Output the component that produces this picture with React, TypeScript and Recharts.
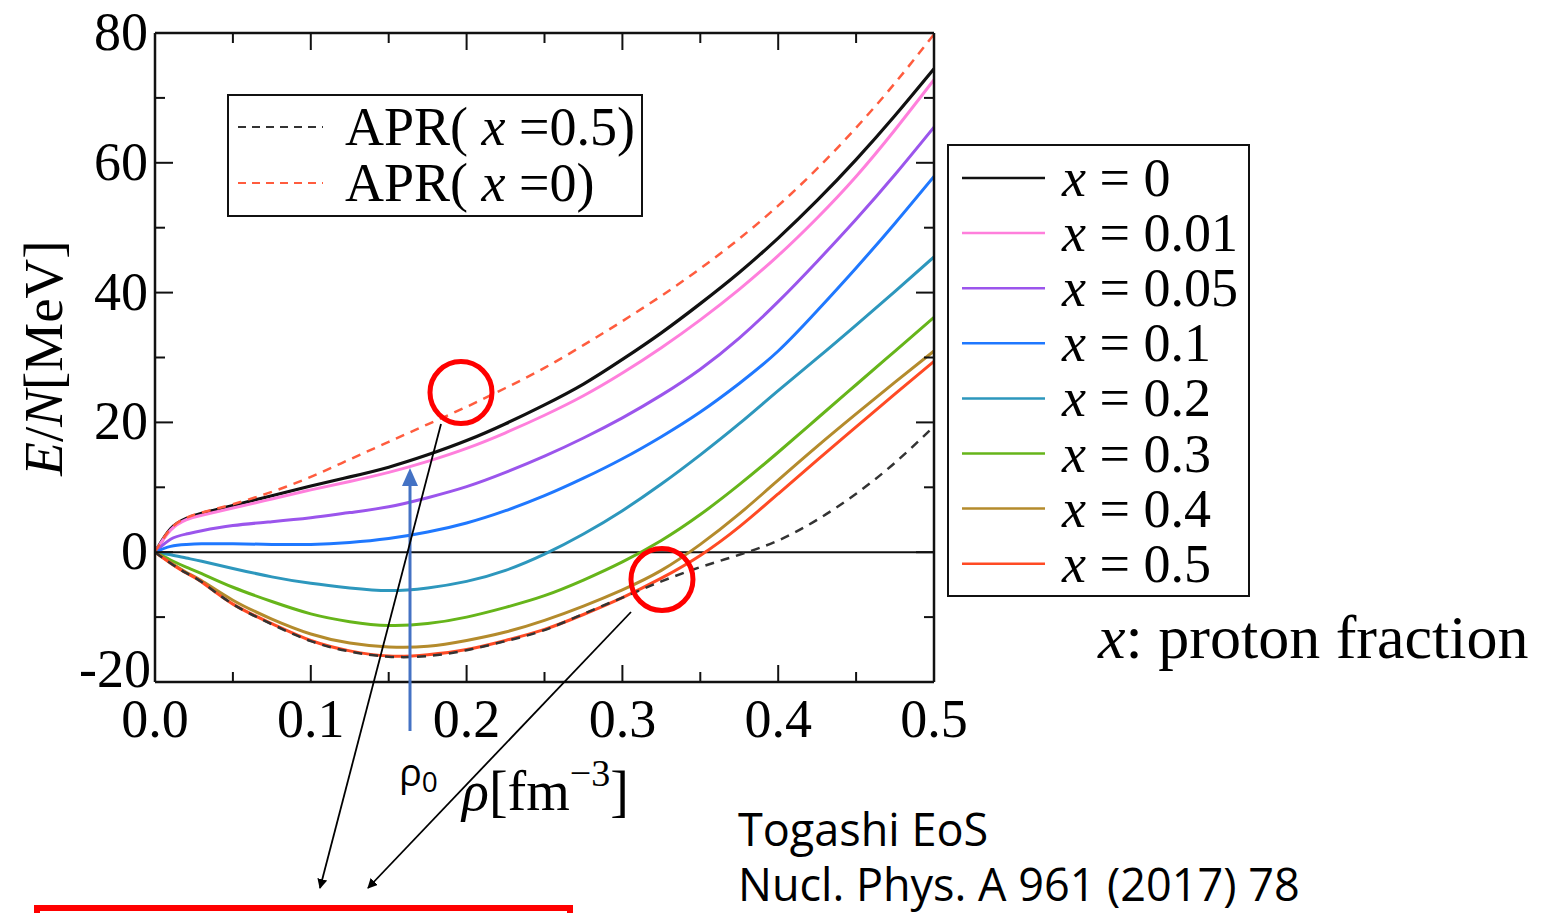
import React from "react";
import { LineChart, Line, XAxis, YAxis, ReferenceLine, ReferenceDot } from "recharts";

// density grid rho [fm^-3]
const rho = [0, 0.01, 0.02, 0.03, 0.05, 0.075, 0.1, 0.125, 0.15, 0.175, 0.2, 0.225, 0.25, 0.275, 0.3, 0.325, 0.35, 0.375, 0.4, 0.425, 0.45, 0.475, 0.5];

// E/N [MeV] for each proton fraction x
const x0 = [0, 3.6, 5.2, 6.0, 7.2, 8.7, 10.2, 11.6, 13.1, 15.0, 17.2, 19.8, 22.7, 25.9, 29.7, 33.8, 38.3, 43.1, 48.4, 54.2, 60.5, 67.3, 74.5];
const x001 = [0, 3.4, 5.0, 5.7, 6.8, 8.2, 9.6, 10.9, 12.3, 14.0, 16.0, 18.4, 21.1, 24.1, 27.6, 31.5, 35.8, 40.5, 45.7, 51.5, 57.9, 65.1, 72.8];
const x005 = [0, 2.0, 2.8, 3.3, 4.1, 4.7, 5.3, 6.1, 7.0, 8.4, 10.1, 12.3, 14.8, 17.6, 20.7, 24.2, 28.2, 33.0, 38.6, 44.8, 51.3, 58.2, 65.5];
const x01 = [0, 0.9, 1.2, 1.3, 1.3, 1.2, 1.2, 1.5, 2.1, 3.1, 4.5, 6.4, 8.7, 11.4, 14.4, 17.8, 21.6, 26.0, 31.0, 37.2, 43.8, 50.7, 57.9];
const x02 = [0, -0.4, -0.9, -1.4, -2.5, -3.8, -4.8, -5.5, -5.9, -5.5, -4.5, -2.8, -0.3, 2.8, 6.4, 10.5, 15.0, 19.8, 24.9, 29.9, 35.0, 40.2, 45.5];
const x03 = [0, -1.2, -2.3, -3.3, -5.4, -7.6, -9.5, -10.7, -11.3, -11.0, -10.0, -8.5, -6.7, -4.3, -1.5, 1.8, 5.8, 10.4, 15.4, 20.6, 25.8, 31.0, 36.2];
const x04 = [0, -1.6, -3.1, -4.4, -7.4, -10.3, -12.6, -14.0, -14.6, -14.5, -13.6, -12.3, -10.5, -8.3, -5.8, -2.8, 1.2, 5.9, 11.1, 16.3, 21.3, 26.2, 31.0];
const x05 = [0, -1.7, -3.2, -4.6, -8.0, -11.0, -13.6, -15.2, -16.0, -15.8, -15.0, -13.6, -11.9, -9.6, -7.0, -4.0, -0.5, 3.9, 9.0, 14.2, 19.3, 24.4, 29.4];
// APR reference curves
const aprSym = [0, -1.7, -3.2, -4.6, -8.0, -11.1, -13.7, -15.3, -16.1, -16.0, -15.1, -13.7, -12.0, -9.5, -7.0, -4.5, -2.3, -0.4, 1.8, 5.0, 9.0, 13.8, 19.4];
const aprPnm = [0, 3.6, 5.3, 6.1, 7.4, 9.3, 11.6, 14.3, 17.0, 19.7, 22.4, 25.3, 28.4, 31.9, 35.6, 39.5, 43.7, 48.3, 53.4, 59.1, 65.4, 72.3, 79.8];

const xTicks = [0, 0.05, 0.1, 0.15, 0.2, 0.25, 0.3, 0.35, 0.4, 0.45, 0.5];
const yTicks = [-20, -10, 0, 10, 20, 30, 40, 50, 60, 70, 80];

const solidSeries = [
  { key: "x0", label: "0", color: "#111111", values: x0 },
  { key: "x001", label: "0.01", color: "#ff7fdc", values: x001 },
  { key: "x005", label: "0.05", color: "#9b55ec", values: x005 },
  { key: "x01", label: "0.1", color: "#1f78ff", values: x01 },
  { key: "x02", label: "0.2", color: "#2d97bd", values: x02 },
  { key: "x03", label: "0.3", color: "#66b51a", values: x03 },
  { key: "x04", label: "0.4", color: "#b48b2c", values: x04 },
  { key: "x05", label: "0.5", color: "#ff4a24", values: x05 },
];

const aprSeries = [
  { key: "aprSym", label: "0.5", color: "#333333", values: aprSym },
  { key: "aprPnm", label: "0", color: "#ff5c3e", values: aprPnm },
];

const data = rho.map((r, i) => {
  const row: Record<string, number> = { rho: r };
  [...solidSeries, ...aprSeries].forEach((s) => (row[s.key] = s.values[i]));
  return row;
});

const serif = "'Liberation Serif', 'Times New Roman', serif";
const sans = "'Open Sans', 'Noto Sans', sans-serif";
const isMajor = (v: number, step: number) => Math.abs(v / step - Math.round(v / step)) < 1e-6;

const BottomTick = (p: any) => {
  const v = p.payload.value;
  const major = isMajor(v, 0.1);
  return (
    <g>
      <line x1={p.x} x2={p.x} y1={p.y} y2={p.y - (major ? 17 : 10)} stroke="#111" strokeWidth={2} />
      {major && (
        <text x={p.x} y={p.y + 55} textAnchor="middle" fontSize={54} fontFamily={serif} fill="#000">
          {v.toFixed(1)}
        </text>
      )}
    </g>
  );
};

const TopTick = (p: any) => {
  const major = isMajor(p.payload.value, 0.1);
  return <line x1={p.x} x2={p.x} y1={p.y} y2={p.y + (major ? 17 : 10)} stroke="#111" strokeWidth={2} />;
};

const LeftTick = (p: any) => {
  const v = p.payload.value;
  const major = isMajor(v, 20);
  return (
    <g>
      <line x1={p.x} x2={p.x + (major ? 18 : 10)} y1={p.y} y2={p.y} stroke="#111" strokeWidth={2} />
      {major && (
        <text x={v === -20 ? p.x - 4 : p.x - 7} y={v === -20 ? p.y + 5 : p.y + 17} textAnchor="end" fontSize={54} fontFamily={serif} fill="#000">
          {v}
        </text>
      )}
    </g>
  );
};

const RightTick = (p: any) => {
  const major = isMajor(p.payload.value, 20);
  return <line x1={p.x} x2={p.x - (major ? 18 : 10)} y1={p.y} y2={p.y} stroke="#111" strokeWidth={2} />;
};

const axisLine = { stroke: "#111", strokeWidth: 2.5 };

export default function App() {
  return (
    <div style={{ position: "absolute", left: 0, top: 0, width: 1544, height: 913, background: "#fff", overflow: "hidden" }}>
      <LineChart width={1544} height={913} data={data} margin={{ top: 13, right: 590, bottom: 171, left: 95 }}>
        <XAxis xAxisId="b" dataKey="rho" type="number" domain={[0, 0.5]} ticks={xTicks} interval={0} allowDataOverflow
          height={60} tickSize={0} tickMargin={0} tickLine={false} axisLine={axisLine} tick={BottomTick} />
        <XAxis xAxisId="t" orientation="top" dataKey="rho" type="number" domain={[0, 0.5]} ticks={xTicks} interval={0} allowDataOverflow
          height={20} tickSize={0} tickMargin={0} tickLine={false} axisLine={axisLine} tick={TopTick} />
        <YAxis yAxisId="l" type="number" domain={[-20, 80]} ticks={yTicks} interval={0} allowDataOverflow
          width={60} tickSize={0} tickMargin={0} tickLine={false} axisLine={axisLine} tick={LeftTick} />
        <YAxis yAxisId="r" orientation="right" type="number" domain={[-20, 80]} ticks={yTicks} interval={0} allowDataOverflow
          width={20} tickSize={0} tickMargin={0} tickLine={false} axisLine={axisLine} tick={RightTick} />
        <ReferenceLine xAxisId="b" yAxisId="l" y={0} stroke="#111" strokeWidth={2} />
        {solidSeries.map((s) => (
          <Line key={s.key} xAxisId="b" yAxisId="l" dataKey={s.key} type="natural" stroke={s.color}
            strokeWidth={s.key === "x0" ? 3.2 : 3} dot={false} isAnimationActive={false} />
        ))}
        {aprSeries.map((s) => (
          <Line key={s.key} xAxisId="b" yAxisId="l" dataKey={s.key} type="natural" stroke={s.color}
            strokeWidth={2.5} strokeDasharray="9 7" dot={false} isAnimationActive={false} />
        ))}
        {/* keeps the mirrored top/right axes bound to data */}
        <Line xAxisId="t" yAxisId="r" dataKey="x05" stroke="none" strokeWidth={0} dot={false} legendType="none" isAnimationActive={false} />
        <ReferenceDot xAxisId="b" yAxisId="l" x={0.1964} y={24.6} r={31} fill="none" stroke="#ff0000" strokeWidth={5} />
        <ReferenceDot xAxisId="b" yAxisId="l" x={0.3254} y={-4.2} r={31} fill="none" stroke="#ff0000" strokeWidth={5} />
      </LineChart>

      <svg width={1544} height={913} style={{ position: "absolute", left: 0, top: 0, pointerEvents: "none" }}>
        <defs>
          <marker id="ah" markerWidth="10" markerHeight="10" refX="9" refY="5" orient="auto" markerUnits="userSpaceOnUse">
            <path d="M0,0 L10,5 L0,10 Z" fill="#000" />
          </marker>
        </defs>

        {/* APR legend */}
        <rect x={228} y={95} width={414} height={121} fill="#fff" stroke="#111" strokeWidth={2} />
        {aprSeries.map((s, i) => (
          <g key={s.key}>
            <line x1={238} x2={323} y1={127 + i * 56} y2={127 + i * 56} stroke={s.color} strokeWidth={2} strokeDasharray="8 6" />
            <text x={345} y={145 + i * 56} fontSize={54} fontFamily={serif} fill="#000">
              APR(<tspan fontStyle="italic"> x </tspan>={s.label})
            </text>
          </g>
        ))}

        {/* proton fraction legend */}
        <rect x={948} y={145} width={301} height={451} fill="#fff" stroke="#111" strokeWidth={2} />
        {solidSeries.map((s, i) => (
          <g key={s.key}>
            <line x1={962} x2={1045} y1={178 + i * 55.1} y2={178 + i * 55.1} stroke={s.color} strokeWidth={2.5} />
            <text x={1062} y={196 + i * 55.1} fontSize={54} fontFamily={serif} fill="#000">
              <tspan fontStyle="italic">x</tspan> = {s.label}
            </text>
          </g>
        ))}

        {/* axis titles */}
        <text x={43} y={358} transform="rotate(-90 43 358)" textAnchor="middle" dominantBaseline="central" fontSize={55} fontFamily={serif} fill="#000">
          <tspan fontStyle="italic">E</tspan>/<tspan fontStyle="italic">N</tspan>[MeV]
        </text>
        <text x={462} y={810} fontSize={56} fontFamily={serif} fill="#000">
          <tspan fontStyle="italic">ρ</tspan>[fm<tspan fontSize={38} dy={-24}>−3</tspan><tspan dy={24}>]</tspan>
        </text>

        <text x={1098} y={658} fontSize={62} fontFamily={serif} fill="#000">
          <tspan fontStyle="italic">x</tspan>: proton fraction
        </text>

        {/* rho0 arrow */}
        <line x1={410} x2={410} y1={731} y2={484} stroke="#4472c4" strokeWidth={3} />
        <path d="M402,486 L410,468 L418,486 Z" fill="#4472c4" />
        <text x={399} y={786} fontSize={38} fontFamily={sans} fill="#000">
          ρ<tspan fontSize={28} dy={6}>0</tspan>
        </text>

        {/* arrows to the box */}
        <line x1={441} y1={424} x2={320} y2={888} stroke="#000" strokeWidth={1.8} markerEnd="url(#ah)" />
        <line x1={631} y1={612} x2={368} y2={888} stroke="#000" strokeWidth={1.8} markerEnd="url(#ah)" />

        <rect x={37} y={908} width={533} height={30} fill="none" stroke="#ff0000" strokeWidth={6} />

        <text x={738} y={846} fontSize={45} fontFamily={sans} fill="#000">Togashi EoS</text>
        <text x={738} y={901} fontSize={45} fontFamily={sans} fill="#000">Nucl. Phys. A 961 (2017) 78</text>
      </svg>
    </div>
  );
}
